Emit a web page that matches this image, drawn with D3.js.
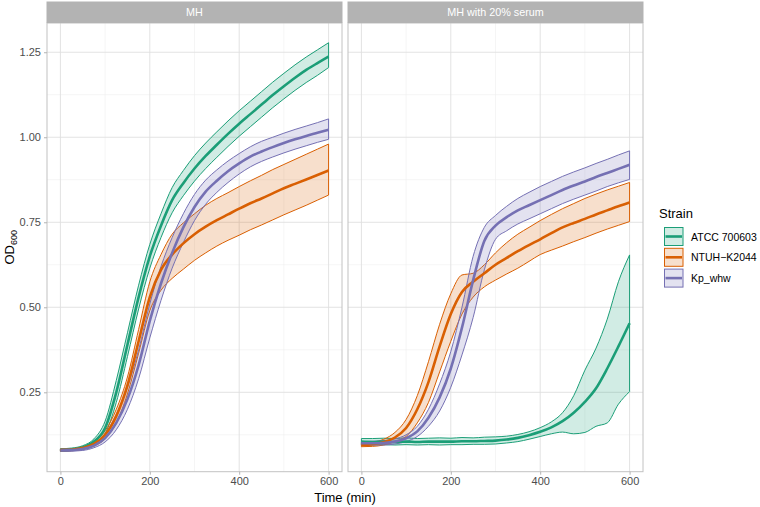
<!DOCTYPE html>
<html>
<head>
<meta charset="utf-8">
<script src="https://cdn.jsdelivr.net/npm/d3@7"></script>
<style>
  html, body { margin: 0; padding: 0; background: #ffffff; }
  svg { display: block; font-family: "Liberation Sans", Arial, sans-serif; }
</style>
</head>
<body>
<svg id="chart" width="760" height="507"></svg>
<script>
// ---------------- DATA ----------------
const times = [0,25,50,75,100,125,150,175,200,225,250,275,300,325,350,375,400,425,450,475,500,525,550,575,600];
const strains = ["ATCC 700603", "NTUH\u2212K2044", "Kp_whw"];
const panels = ["MH", "MH with 20% serum"];
const xTicks = [0, 200, 400, 600];
const yTicks = [0.25, 0.50, 0.75, 1.00, 1.25];
const yTickLabels = ["0.25", "0.50", "0.75", "1.00", "1.25"];

// MH panel
const mhAtccMean = [0.080,0.082,0.088,0.105,0.145,0.250,0.390,0.530,0.650,0.740,0.815,0.865,0.908,0.945,0.978,1.010,1.040,1.068,1.096,1.124,1.150,1.175,1.198,1.218,1.237];
const mhAtccLo   = [0.077,0.079,0.084,0.098,0.128,0.220,0.355,0.495,0.615,0.705,0.778,0.828,0.871,0.908,0.941,0.973,1.003,1.031,1.059,1.087,1.113,1.138,1.161,1.182,1.205];
const mhAtccHi   = [0.084,0.086,0.093,0.113,0.165,0.285,0.425,0.565,0.685,0.775,0.852,0.902,0.946,0.983,1.016,1.048,1.078,1.106,1.134,1.162,1.188,1.213,1.236,1.257,1.278];

const mhNtuhMean = [0.080,0.081,0.086,0.098,0.125,0.180,0.270,0.400,0.530,0.610,0.655,0.688,0.715,0.737,0.756,0.773,0.790,0.806,0.820,0.835,0.850,0.863,0.876,0.889,0.902];
const mhNtuhLo   = [0.077,0.078,0.082,0.092,0.113,0.160,0.245,0.365,0.490,0.550,0.585,0.612,0.638,0.660,0.680,0.697,0.712,0.728,0.742,0.757,0.772,0.786,0.800,0.815,0.830];
const mhNtuhHi   = [0.083,0.084,0.090,0.104,0.137,0.200,0.295,0.435,0.575,0.655,0.715,0.748,0.775,0.800,0.820,0.837,0.855,0.872,0.888,0.905,0.920,0.935,0.950,0.965,0.980];

const mhKpMean   = [0.079,0.080,0.083,0.093,0.115,0.160,0.230,0.330,0.460,0.570,0.660,0.735,0.795,0.840,0.872,0.900,0.923,0.943,0.958,0.971,0.983,0.994,1.004,1.013,1.022];
const mhKpLo     = [0.076,0.077,0.079,0.087,0.104,0.140,0.200,0.290,0.410,0.520,0.615,0.690,0.755,0.803,0.838,0.867,0.892,0.913,0.929,0.942,0.954,0.965,0.975,0.985,0.994];
const mhKpHi     = [0.083,0.084,0.088,0.100,0.128,0.185,0.265,0.375,0.510,0.620,0.705,0.775,0.832,0.874,0.904,0.930,0.952,0.972,0.988,1.000,1.012,1.023,1.033,1.043,1.054];

// MH with 20% serum panel
const seAtccMean = [0.105,0.104,0.105,0.104,0.105,0.104,0.105,0.105,0.105,0.106,0.106,0.107,0.108,0.111,0.116,0.124,0.134,0.147,0.165,0.190,0.222,0.262,0.320,0.385,0.453];
const seAtccLo   = [0.096,0.095,0.096,0.095,0.096,0.095,0.096,0.095,0.096,0.096,0.097,0.097,0.098,0.101,0.105,0.112,0.120,0.128,0.133,0.128,0.132,0.150,0.160,0.215,0.252];
const seAtccHi   = [0.114,0.114,0.115,0.114,0.116,0.114,0.115,0.116,0.115,0.117,0.116,0.118,0.119,0.121,0.126,0.134,0.146,0.163,0.190,0.240,0.315,0.380,0.465,0.575,0.654];

const seNtuhMean = [0.095,0.097,0.103,0.117,0.145,0.200,0.280,0.385,0.480,0.545,0.575,0.600,0.625,0.645,0.665,0.683,0.700,0.718,0.735,0.748,0.760,0.773,0.785,0.797,0.808];
const seNtuhLo   = [0.090,0.091,0.095,0.105,0.120,0.160,0.220,0.310,0.400,0.480,0.530,0.560,0.580,0.598,0.615,0.635,0.655,0.668,0.680,0.693,0.705,0.718,0.730,0.741,0.752];
const seNtuhHi   = [0.100,0.103,0.112,0.132,0.170,0.240,0.340,0.450,0.540,0.595,0.600,0.625,0.660,0.690,0.715,0.735,0.755,0.773,0.790,0.805,0.820,0.833,0.845,0.856,0.867];

const seKpMean   = [0.100,0.100,0.101,0.105,0.115,0.135,0.175,0.235,0.320,0.440,0.580,0.695,0.740,0.765,0.785,0.800,0.815,0.830,0.845,0.858,0.870,0.883,0.895,0.907,0.919];
const seKpLo     = [0.095,0.095,0.095,0.098,0.105,0.120,0.150,0.195,0.265,0.360,0.470,0.610,0.700,0.725,0.745,0.760,0.775,0.790,0.805,0.818,0.830,0.842,0.855,0.866,0.876];
const seKpHi     = [0.105,0.106,0.108,0.113,0.125,0.150,0.200,0.275,0.370,0.500,0.650,0.735,0.770,0.797,0.820,0.838,0.855,0.870,0.885,0.898,0.910,0.923,0.935,0.948,0.960];

const colors = ["#1B9E77", "#D95F02", "#7570B3"];

const panelSeries = [
  [ {mean: mhAtccMean, lo: mhAtccLo, hi: mhAtccHi},
    {mean: mhNtuhMean, lo: mhNtuhLo, hi: mhNtuhHi},
    {mean: mhKpMean,   lo: mhKpLo,   hi: mhKpHi} ],
  [ {mean: seAtccMean, lo: seAtccLo, hi: seAtccHi},
    {mean: seNtuhMean, lo: seNtuhLo, hi: seNtuhHi},
    {mean: seKpMean,   lo: seKpLo,   hi: seKpHi} ]
];

// ---------------- LAYOUT ----------------
const svg = d3.select("#chart");
const panelTop = 23, panelBottom = 471.7;
const stripTop = 1.5;
const panelX = [[47, 342], [348, 643]];

const y = d3.scaleLinear().domain([0.0165, 1.336]).range([panelBottom, panelTop]);

const gridMajorY = yTicks;
const gridMinorY = [0.125, 0.375, 0.625, 0.875, 1.125];
const gridMinorX = [100, 300, 500];

panels.forEach((pname, pi) => {
  const [x0, x1] = panelX[pi];
  const x = d3.scaleLinear().domain([-30, 630]).range([x0, x1]);
  const g = svg.append("g");

  const clipId = "clip" + pi;
  svg.append("clipPath").attr("id", clipId)
    .append("rect").attr("x", x0).attr("y", panelTop).attr("width", x1 - x0).attr("height", panelBottom - panelTop);

  g.selectAll(".gmy").data(gridMinorY).join("line")
    .attr("x1", x0).attr("x2", x1).attr("y1", d => y(d)).attr("y2", d => y(d))
    .attr("stroke", "#eeeeee").attr("stroke-width", 0.6);
  g.selectAll(".gmx").data(gridMinorX).join("line")
    .attr("y1", panelTop).attr("y2", panelBottom).attr("x1", d => x(d)).attr("x2", d => x(d))
    .attr("stroke", "#eeeeee").attr("stroke-width", 0.6);
  g.selectAll(".gMy").data(gridMajorY).join("line")
    .attr("x1", x0).attr("x2", x1).attr("y1", d => y(d)).attr("y2", d => y(d))
    .attr("stroke", "#e0e0e0").attr("stroke-width", 0.9);
  g.selectAll(".gMx").data(xTicks).join("line")
    .attr("y1", panelTop).attr("y2", panelBottom).attr("x1", d => x(d)).attr("x2", d => x(d))
    .attr("stroke", "#e0e0e0").attr("stroke-width", 0.9);

  const dataG = g.append("g").attr("clip-path", `url(#${clipId})`);
  const area = d3.area()
    .x((d, i) => x(times[i]))
    .y0(d => y(d[0])).y1(d => y(d[1]))
    .curve(d3.curveMonotoneX);
  const line = d3.line()
    .x((d, i) => x(times[i])).y(d => y(d))
    .curve(d3.curveMonotoneX);

  panelSeries[pi].forEach((s, si) => {
    const pairs = s.lo.map((v, i) => [v, s.hi[i]]);
    dataG.append("path").attr("d", area(pairs))
      .attr("fill", colors[si]).attr("fill-opacity", 0.2)
      .attr("stroke", colors[si]).attr("stroke-width", 1);
  });
  panelSeries[pi].forEach((s, si) => {
    dataG.append("path").attr("d", line(s.mean))
      .attr("fill", "none").attr("stroke", colors[si]).attr("stroke-width", 2.6)
      .attr("stroke-linejoin", "round");
  });

  g.append("rect").attr("x", x0).attr("y", panelTop).attr("width", x1 - x0).attr("height", panelBottom - panelTop)
    .attr("fill", "none").attr("stroke", "#c2c2c2").attr("stroke-width", 1);

  g.append("rect").attr("x", x0 - 0.5).attr("y", stripTop).attr("width", x1 - x0 + 1).attr("height", panelTop - stripTop)
    .attr("fill", "#b3b3b3");
  g.append("text").attr("x", (x0 + x1) / 2).attr("y", 16.2)
    .attr("text-anchor", "middle").attr("fill", "#ffffff").attr("font-size", 10.8).text(pname);

  const xa = g.append("g").attr("transform", `translate(0,${panelBottom})`)
    .call(d3.axisBottom(x).tickValues(xTicks).tickSize(3).tickPadding(3).tickFormat(d3.format("d")));
  xa.select(".domain").remove();
  xa.selectAll(".tick line").attr("stroke", "#b3b3b3");
  xa.selectAll(".tick text").attr("fill", "#4d4d4d").attr("font-size", 11)
    .attr("font-family", "'Liberation Sans', Arial, sans-serif");

  if (pi === 0) {
    const ya = g.append("g").attr("transform", `translate(${x0},0)`)
      .call(d3.axisLeft(y).tickValues(yTicks).tickSize(3).tickPadding(3).tickFormat((d, i) => yTickLabels[i]));
    ya.select(".domain").remove();
    ya.selectAll(".tick line").attr("stroke", "#b3b3b3");
    ya.selectAll(".tick text").attr("fill", "#4d4d4d").attr("font-size", 11)
      .attr("font-family", "'Liberation Sans', Arial, sans-serif");
  }
});

svg.append("text").attr("x", 345).attr("y", 501.5).attr("text-anchor", "middle")
  .attr("font-size", 13).attr("fill", "#000").text("Time (min)");

const yt = svg.append("text").attr("transform", `translate(14,${(panelTop + panelBottom) / 2}) rotate(-90)`)
  .attr("text-anchor", "middle").attr("font-size", 13).attr("fill", "#000");
yt.append("tspan").text("OD");
yt.append("tspan").attr("font-size", 9).attr("dy", 3).text("600");

const lg = svg.append("g");
lg.append("text").attr("x", 659).attr("y", 218).attr("font-size", 13).attr("fill", "#000").text("Strain");
strains.forEach((s, i) => {
  const cy = 236.5 + i * 20.8;
  lg.append("rect").attr("x", 664.5).attr("y", cy - 9).attr("width", 18.5).attr("height", 18)
    .attr("fill", colors[i]).attr("fill-opacity", 0.2).attr("stroke", colors[i]).attr("stroke-width", 1);
  lg.append("line").attr("x1", 665.5).attr("x2", 682).attr("y1", cy).attr("y2", cy)
    .attr("stroke", colors[i]).attr("stroke-width", 2.6);
  lg.append("text").attr("x", 691).attr("y", cy + 4).attr("font-size", 10.5).attr("fill", "#000").text(s);
});
</script>
</body>
</html>
